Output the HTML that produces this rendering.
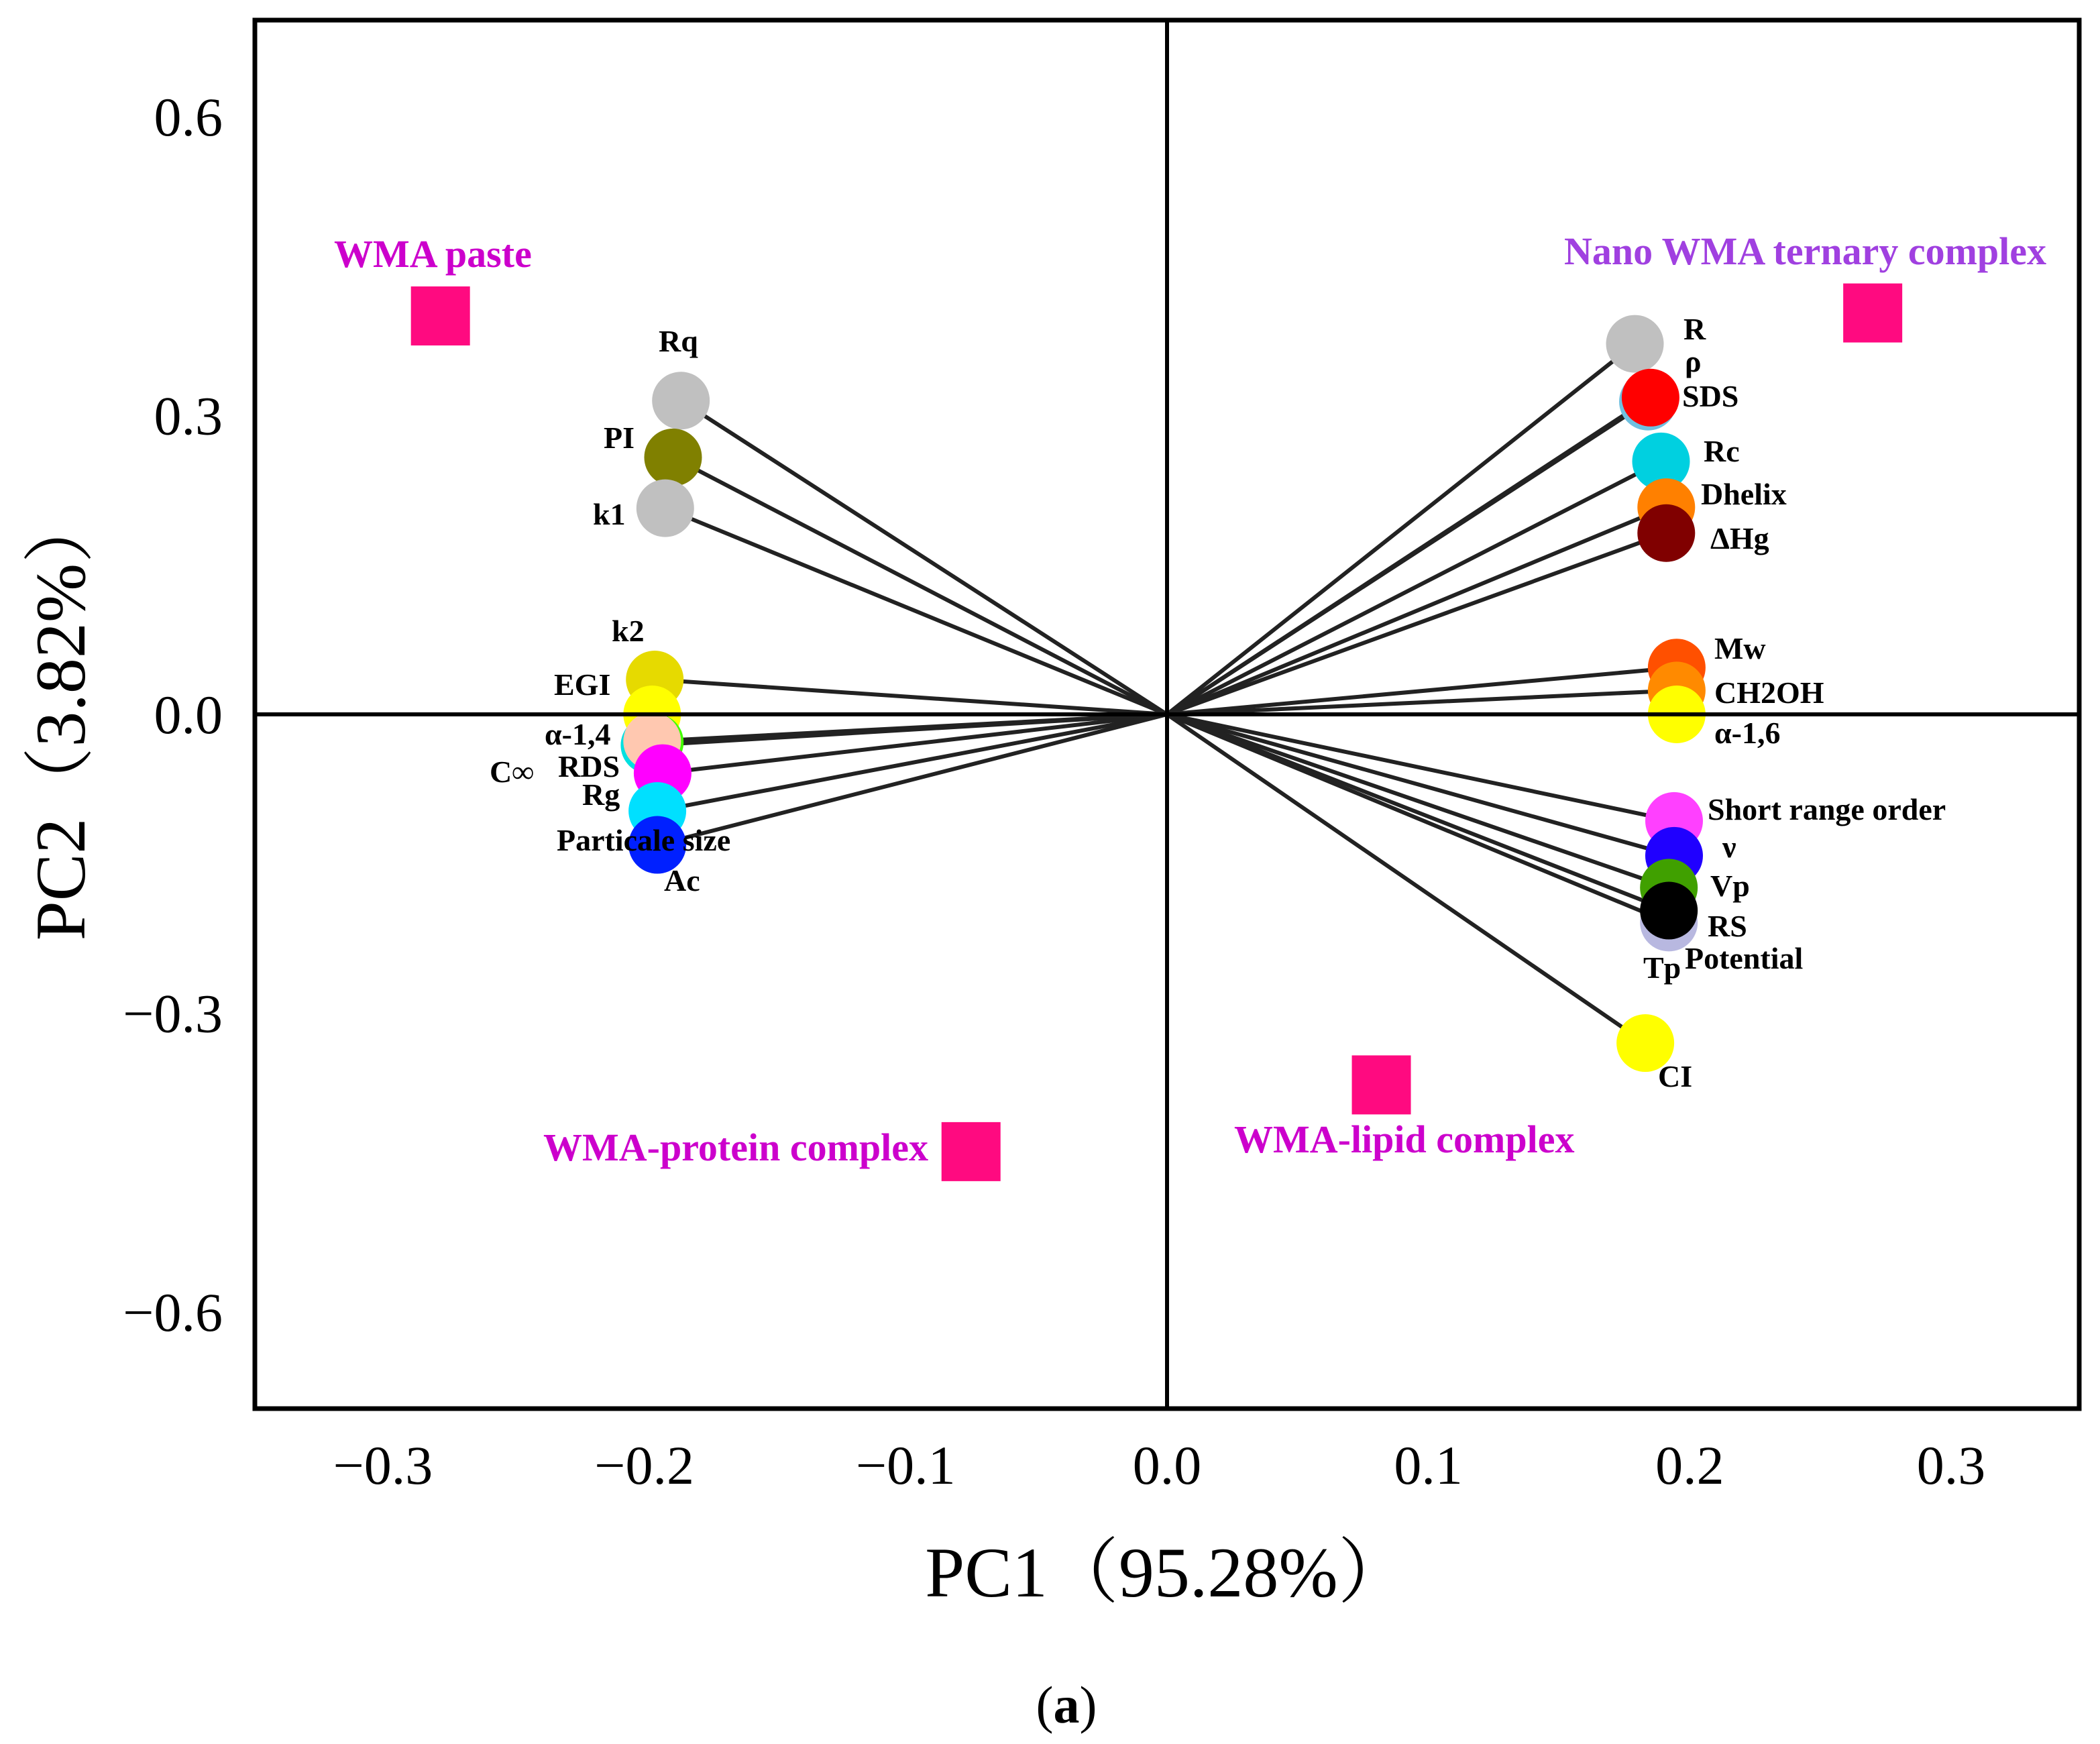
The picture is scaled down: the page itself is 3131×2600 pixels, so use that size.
<!DOCTYPE html>
<html><head><meta charset="utf-8"><style>
html,body{margin:0;padding:0;background:#fff}
svg{display:block}
text{font-family:"Liberation Serif","Noto Serif CJK SC",serif}
</style></head><body>
<svg id="chart" width="3131" height="2600" viewBox="0 0 3131 2600" xmlns="http://www.w3.org/2000/svg">
<g id="vectors"></g>
<g id="points"></g>
<g id="samples"></g>
<g id="axes"></g>
<g font-weight="bold" font-size="46" fill="#000">
<text x="2510" y="506">R</text><text x="2512" y="554">ρ</text><text x="2508" y="606">SDS</text>
<text x="2540" y="688">Rc</text><text x="2536" y="752">Dhelix</text><text x="2550" y="818">ΔHg</text>
<text x="2556" y="982">Mw</text><text x="2556" y="1048">CH2OH</text><text x="2556" y="1108">α-1,6</text>
<text x="2546" y="1222">Short range order</text><text x="2568" y="1278">ν</text><text x="2550" y="1336">Vp</text>
<text x="2546" y="1396">RS</text><text x="2512" y="1444">Potential</text><text x="2450" y="1458">Tp</text>
<text x="2472" y="1620">CI</text>
<text x="982" y="524">Rq</text><text x="900" y="668">PI</text><text x="884" y="782">k1</text>
<text x="912" y="956">k2</text><text x="826" y="1036">EGI</text><text x="812" y="1110">α-1,4</text>
<text x="730" y="1166">C∞</text><text x="832" y="1158">RDS</text><text x="868" y="1200">Rg</text>
<text x="830" y="1268">Particale size</text><text x="990" y="1328">Ac</text>
</g>
<g font-weight="bold" font-size="58">
<text x="498" y="398" fill="#cc00cc">WMA paste</text>
<text x="2332" y="394" fill="#a040e0">Nano WMA ternary complex</text>
<text x="810" y="1730" fill="#cc00cc">WMA-protein complex</text>
<text x="1840" y="1718" fill="#cc00cc">WMA-lipid complex</text>
</g>
<text x="1740" y="2380" text-anchor="middle" font-size="106">PC1（95.28%）</text>
<text transform="translate(126,1068) rotate(-90)" text-anchor="middle" font-size="106">PC2（3.82%）</text>
<text x="1590" y="2568" text-anchor="middle" font-size="78">(<tspan font-weight="bold">a</tspan>)</text>
</svg>
<script>
const varNames=["R","ρ","SDS","Rc","Dhelix","ΔHg","Mw","CH2OH","α-1,6","Short range order","ν","Vp","Tp","RS","CI","Rq","PI","k1","k2","EGI","C∞","α-1,4","RDS","Rg","Particale size","Ac"];
const pc1=[0.179,0.184,0.185,0.189,0.191,0.191,0.195,0.195,0.195,0.194,0.194,0.192,0.192,0.192,0.183,-0.186,-0.189,-0.192,-0.196,-0.197,-0.198,-0.196,-0.197,-0.193,-0.195,-0.195];
const pc2=[0.372,0.314,0.318,0.254,0.208,0.182,0.047,0.024,0.0,-0.107,-0.142,-0.174,-0.209,-0.197,-0.330,0.315,0.258,0.207,0.035,0.0,-0.031,-0.028,-0.027,-0.059,-0.097,-0.131];
const varColors=["#c0c0c0","#70c0e0","#ff0000","#00d0e0","#ff8000","#800000","#ff5000","#ff8a00","#ffff00","#ff40ff","#2000ff","#40a000","#b8b8e0","#000000","#ffff00","#c0c0c0","#808000","#c0c0c0","#e6da00","#ffff00","#00e0e0","#40ff00","#ffc8b0","#ff00ff","#00e0ff","#0020ff"];
const sampleNames=["WMA paste","Nano WMA ternary complex","WMA-protein complex","WMA-lipid complex"];
const samplePC1=[-0.278,0.270,-0.075,0.082];
const samplePC2=[0.400,0.403,-0.439,-0.372];
const xTicks=[-0.3,-0.2,-0.1,0.0,0.1,0.2,0.3];
const yTicks=[-0.6,-0.3,0.0,0.3,0.6];
const xTickLabels=["\u22120.3","\u22120.2","\u22120.1","0.0","0.1","0.2","0.3"];
const yTickLabels=["\u22120.6","\u22120.3","0.0","0.3","0.6"];

const L=380,R=3100,T=30,B=2100;
const sx=v=>L+(v+0.349)/(0.698)*(R-L);
const sy=v=>T+(0.697-v)/(1.394)*(B-T);
const NS="http://www.w3.org/2000/svg";
function mk(tag,attrs,parent){const e=document.createElementNS(NS,tag);for(const k in attrs)e.setAttribute(k,attrs[k]);parent.appendChild(e);return e;}
const gv=document.getElementById('vectors'),gp=document.getElementById('points'),gs=document.getElementById('samples'),ga=document.getElementById('axes');
const ox=sx(0),oy=sy(0);
for(let i=0;i<varNames.length;i++){
  const ln=mk('line',{x1:ox,y1:oy,x2:sx(pc1[i]),y2:sy(pc2[i]),stroke:'#222',"stroke-width":6},gv);
  
  
}
for(let i=0;i<varNames.length;i++){
  const c=mk('circle',{cx:sx(pc1[i]),cy:sy(pc2[i]),r:43,fill:varColors[i]},gp);
  
  
}
for(let i=0;i<sampleNames.length;i++){
  const r=mk('rect',{x:sx(samplePC1[i])-44,y:sy(samplePC2[i])-44,width:88,height:88,fill:'#ff0a80'},gs);
  
  
}
const box=mk('rect',{x:L,y:T,width:R-L,height:B-T,fill:'none',stroke:'#000',"stroke-width":7},ga);


const zx=mk('line',{x1:L,x2:R,y1:oy,y2:oy,stroke:'#000',"stroke-width":6},ga);


const zy=mk('line',{x1:ox,x2:ox,y1:T,y2:B,stroke:'#000',"stroke-width":6},ga);


for(let i=0;i<xTicks.length;i++){
  const t=mk('text',{x:sx(xTicks[i]),y:2212,"text-anchor":"middle","font-size":82},ga);
  t.textContent=xTickLabels[i];
  
  
}
for(let i=0;i<yTicks.length;i++){
  const t=mk('text',{x:332,y:sy(yTicks[i])+28,"text-anchor":"end","font-size":82},ga);
  t.textContent=yTickLabels[i];
  
  
}
</script>
</body></html>
